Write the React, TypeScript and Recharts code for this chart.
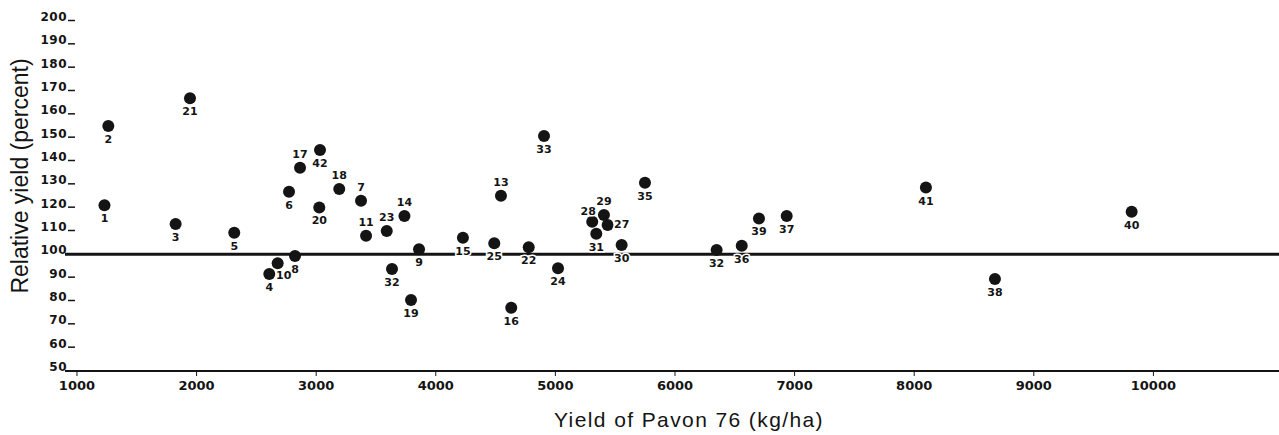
import React from 'react';
import { ScatterChart, Scatter, XAxis, YAxis, ReferenceLine, Label } from 'recharts';

// entry numbers, Pavon 76 yield (kg/ha) and relative yield (%) per site
const entryIds = [
  '1', '2', '3', '4', '5', '6', '7', '8', '9', '10',
  '11', '13', '14', '15', '16', '17', '18', '19', '20', '21',
  '22', '23', '24', '25', '27', '28', '29', '30', '31', '32',
  '32', '33', '35', '36', '37', '38', '39', '40', '41', '42',
];
const pavonYield = [
  1230, 1262, 1825, 2608, 2315, 2773, 3375, 2823, 3860, 2678,
  3417, 4545, 3738, 4227, 4631, 2865, 3193, 3793, 3026, 1945,
  4777, 3590, 5022, 4489, 5437, 5308, 5406, 5554, 5342, 3634,
  6348, 4905, 5749, 6558, 6934, 8675, 6702, 9818, 8098, 3032,
];
const relativeYield = [
  121, 155, 113, 91.6, 109.3, 126.8, 123, 99.3, 102.2, 96.2,
  108, 125.1, 116.4, 107.1, 77.1, 137.1, 128, 80.4, 120.1, 166.9,
  103, 110, 94, 104.7, 112.6, 114, 116.9, 104, 108.8, 93.7,
  101.9, 150.7, 130.7, 103.7, 116.4, 89.4, 115.4, 118.3, 128.6, 144.7,
];

const xTicks = [1000, 2000, 3000, 4000, 5000, 6000, 7000, 8000, 9000, 10000];
const yTicks = [50, 60, 70, 80, 90, 100, 110, 120, 130, 140, 150, 160, 170, 180, 190, 200];

// where each entry number is written relative to its dot
const labelSide = [
  'b', 'b', 'b', 'b', 'b', 'b', 'a', 'b', 'b', 'br',
  'a', 'a', 'a', 'b', 'b', 'a', 'a', 'b', 'b', 'b',
  'b', 'a', 'b', 'b', 'r', 'al', 'a', 'b', 'b', 'b',
  'b', 'b', 'b', 'b', 'b', 'b', 'b', 'b', 'b', 'b',
];
const sideOffset: Record<string, [number, number]> = {
  b: [0, 13],
  a: [0, -14],
  r: [14, -1],
  br: [6, 12],
  al: [-4, -11],
};

const points = entryIds.map((id, i) => ({
  id,
  x: pavonYield[i],
  y: relativeYield[i],
  side: labelSide[i],
}));

const W = 1279;
const H = 435;
const INK = '#141414';
const SANS = '"Liberation Sans", Arial, sans-serif';
const BOLD = '"DejaVu Sans", sans-serif';

const Dot = (props: any) => <circle cx={props.cx} cy={props.cy} r={6} fill={INK} />;

const DotLabel = (props: any) => {
  const [dx, dy] = sideOffset[props.payload.side];
  return (
    <text
      x={props.cx + dx}
      y={props.cy + dy}
      dy="0.36em"
      textAnchor="middle"
      fontFamily={BOLD}
      fontWeight="bold"
      fontSize={11}
      fill={INK}
      stroke="#fff"
      strokeWidth={3}
      paintOrder="stroke"
    >
      {props.payload.id}
    </text>
  );
};

const YTick = (props: any) => {
  const { y, payload } = props;
  const v = payload.value;
  return (
    <g>
      <text x={67} y={y} textAnchor="end" fontFamily={BOLD} fontWeight="bold" fontSize={12} letterSpacing={0.5} fill={INK}>
        {v}
      </text>
      {v !== 100 && v !== 50 && (
        <line x1={68} x2={75} y1={y - 0.5} y2={y - 0.5} stroke={INK} strokeWidth={1.5} />
      )}
    </g>
  );
};

const XTick = (props: any) => (
  <text x={props.x} y={390} textAnchor="middle" fontFamily={BOLD} fontWeight="bold" fontSize={13} fill={INK}>
    {props.payload.value}
  </text>
);

export default function App() {
  return (
    <div style={{ position: 'fixed', left: 0, top: 0, width: W, height: H, background: '#fff' }}>
      <ScatterChart width={W} height={H} margin={{ top: 21, right: 0, bottom: 0, left: 0 }}>
        <XAxis
          type="number"
          dataKey="x"
          domain={[900, 11050]}
          ticks={xTicks}
          interval={0}
          height={64}
          allowDataOverflow
          axisLine={{ stroke: INK, strokeWidth: 2 }}
          tickLine={{ stroke: INK, strokeWidth: 1 }}
          tickSize={5}
          tick={<XTick />}
        >
          <Label
            content={() => (
              <text x={689} y={427} textAnchor="middle" fontFamily={SANS} fontSize={21} letterSpacing={1.4} fill={INK}>
                Yield of Pavon 76 (kg/ha)
              </text>
            )}
          />
        </XAxis>
        <YAxis
          type="number"
          dataKey="y"
          domain={[50, 200]}
          ticks={yTicks}
          interval={0}
          width={65}
          axisLine={false}
          tickLine={false}
          tick={<YTick />}
        >
          <Label
            content={() => (
              <text transform="translate(28,176) rotate(-90)" textAnchor="middle" fontFamily={SANS} fontSize={23} fill={INK}>
                Relative yield (percent)
              </text>
            )}
          />
        </YAxis>
        <ReferenceLine y={100} stroke={INK} strokeWidth={3} />
        <Scatter data={points} shape={Dot} isAnimationActive={false} />
        <Scatter data={points} shape={DotLabel} isAnimationActive={false} />
      </ScatterChart>
    </div>
  );
}
